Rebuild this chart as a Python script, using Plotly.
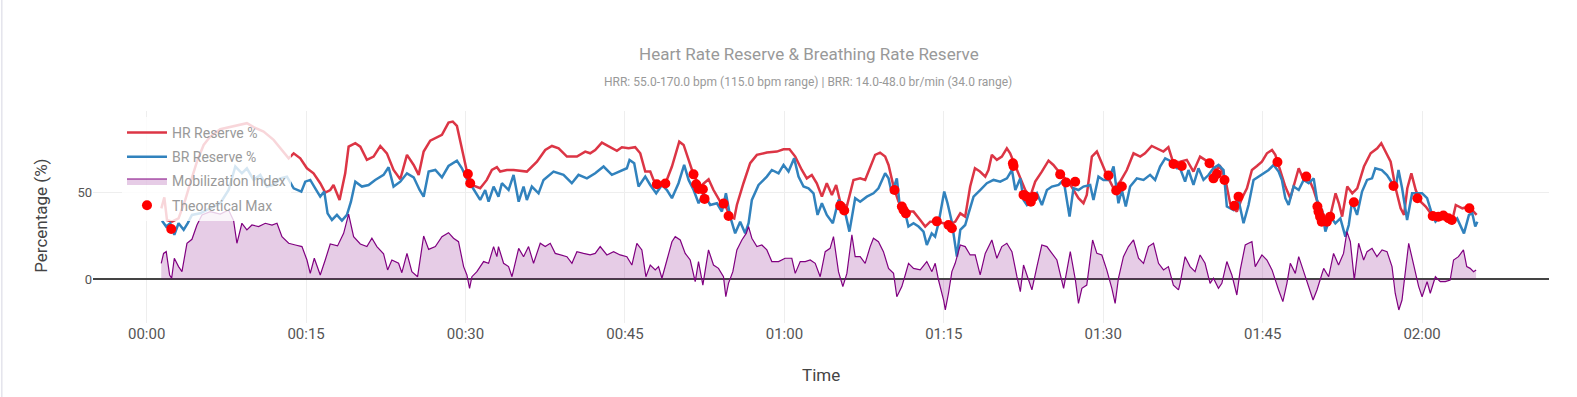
import datetime as dt
import plotly.graph_objects as go

# ---------------- data (time in minutes from start) ----------------
hr_min = [1.38, 1.66, 1.91, 2.38, 3.0, 3.63, 4.1, 4.73, 5.36, 5.98, 6.92, 7.87, 8.8, 9.43, 10.06,
          11.0, 11.94, 12.73, 13.36, 13.83, 14.45, 15.08, 15.7, 16.33, 16.8, 17.27, 17.58, 18.15,
          18.68, 19.0, 19.63, 20.1, 20.72, 21.35, 21.98, 22.6, 23.23, 23.86, 24.49, 25.12, 25.59,
          26.06, 26.68, 27.78, 28.4, 28.8, 29.19, 29.82, 30.13, 30.6,
          31.38, 32.0, 32.48, 32.95, 33.26, 33.89, 34.52, 35.77, 36.72, 37.5, 38.13, 38.76, 39.54,
          40.48, 41.26, 41.73, 42.2, 42.83, 43.46, 44.24, 44.71, 45.34, 45.96, 46.44, 46.91, 47.38,
          47.69, 48.16, 48.79, 49.42, 50.11, 50.52, 50.99, 51.46, 52.08, 52.87, 53.33, 53.96, 54.43,
          54.9, 55.28, 55.53, 56.15, 56.78, 57.41, 58.35, 59.29, 59.92, 60.48, 61.02, 61.64, 62.11,
          62.58, 63.05, 63.53, 63.99, 64.47, 64.87, 65.25, 65.87, 66.5, 66.97,
          67.13, 67.6, 68.07, 68.54, 69.0, 69.48, 69.8, 70.27, 70.74, 71.05, 71.52, 72.15, 72.78,
          73.25, 73.72, 74.35, 74.98, 75.54, 76.08, 76.55, 77.01, 77.48, 77.93, 78.4, 78.9, 79.2,
          79.52, 79.99, 80.46, 80.93, 81.24, 81.56, 82.18, 82.66, 83.13, 83.6, 84.22, 84.85, 85.31,
          85.94, 86.73, 87.2, 87.67, 88.14, 88.45, 88.93, 89.4, 89.87, 90.33, 90.97, 91.59, 92.22,
          92.85, 93.48, 93.93, 94.56, 95.03, 95.66, 96.13, 96.6,
          97.23, 97.86, 98.49, 99.11, 99.58, 100.05, 100.53, 101.0, 101.47, 101.94, 102.57, 103.05,
          103.52, 103.99, 104.46, 104.93, 105.4, 105.88, 106.19, 106.66, 107.13, 107.6, 108.07,
          108.39, 108.86, 109.33, 109.8, 110.24, 110.75, 111.23, 111.64, 111.86, 112.17, 112.48,
          112.96, 113.43, 113.9, 114.53, 115.16, 115.78, 116.16, 116.48, 117.04, 117.51, 117.98,
          118.3, 118.61, 118.99, 119.4, 119.87, 120.34, 120.81, 121.44, 122.38, 122.85, 123.17,
          123.79, 124.42, 124.88, 125.13]
hr_val = [40.8, 47.1, 34.1, 33.1, 35.0, 45.6, 55.2, 67.6, 77.2, 82.0, 86.2, 87.4, 88.7, 89.7, 87.4,
          84.9, 80.1, 74.3, 69.5, 72.4, 69.5, 63.8, 60.9, 55.2, 49.8, 51.3, 54.2, 45.6,
          60.9, 76.2, 78.2, 76.2, 68.6, 70.5, 76.6, 72.4, 62.8, 57.5, 71.5, 65.7, 60.0,
          73.4, 79.7, 83.0, 90.0, 90.6, 88.1, 70.5, 61.9, 54.2,
          52.3, 57.1, 62.8, 64.4, 61.9, 62.8, 62.8, 61.9, 67.6, 74.3, 76.6, 75.3, 70.5,
          70.5, 73.4, 72.4, 74.3, 78.5, 76.2, 73.8, 75.9, 75.3, 75.9, 72.4, 61.9, 61.9,
          57.1, 54.8, 54.8, 64.8, 79.1, 77.2, 68.6, 60.0, 53.3, 57.5, 51.3, 44.6, 42.7,
          36.0, 35.0, 42.7, 55.2, 66.7, 71.5, 72.8, 73.4, 74.7, 74.7, 70.5, 62.8, 58.0,
          59.9, 55.2, 47.5, 55.2, 48.5, 54.2, 44.6, 41.8, 57.1, 58.0,
          58.0, 57.1, 64.8, 71.5, 72.8, 70.5, 65.7, 53.3, 44.6, 41.8, 38.9, 38.9, 34.1,
          30.3, 33.1, 33.1, 32.2, 31.2, 33.1, 37.9, 36.0, 53.3, 63.8, 61.9, 59.0, 62.8,
          71.5, 68.6, 70.5, 75.3, 72.4, 67.6, 58.0, 51.3, 47.5, 56.1, 61.9, 68.2, 65.7,
          60.9, 56.1, 51.3, 46.6, 43.7, 48.5, 70.5, 73.4, 66.7, 60.0, 52.3, 56.1, 62.8,
          72.4, 70.5, 72.4, 76.6, 75.3, 73.4, 75.9, 66.7,
          67.6, 68.6, 61.9, 70.5, 68.6, 66.7, 62.8, 64.8, 58.0, 43.7, 38.9, 46.6,
          52.3, 62.8, 65.1, 67.6, 72.4, 74.3, 71.5, 62.8, 53.3, 46.6, 56.1,
          63.8, 57.1, 58.0, 51.3, 42.7, 37.0, 33.1, 43.7, 49.4, 43.7, 36.0,
          53.3, 49.4, 52.3, 64.8, 72.4, 75.3, 78.2, 74.3, 67.6, 52.3, 40.8,
          37.0, 52.3, 60.9, 51.3, 44.6, 41.8, 37.9, 36.0, 35.0, 34.1, 42.7,
          40.8, 41.8, 38.9, 37.0]

br_min = [1.44, 1.84, 2.22, 2.6, 3.0, 3.48, 3.85, 4.26, 5.04, 5.98, 6.92, 7.71, 8.34, 8.96, 9.43,
          10.06, 10.69, 11.32, 11.94, 12.57, 13.2, 13.83, 14.55, 14.92, 15.39, 15.86, 16.33, 16.71,
          17.02, 17.43, 17.9, 18.37, 18.84, 19.22, 19.63, 20.25, 20.88, 21.5, 22.29, 22.76, 23.23,
          23.86, 24.49, 25.12, 25.68, 26.06, 26.53, 27.16, 27.78, 28.4, 29.19, 29.66, 30.13, 30.6,
          31.38, 31.85, 32.17, 32.64, 33.1, 33.42, 34.05, 34.52, 35.0, 35.46, 35.77, 36.24, 36.87,
          37.34, 38.28, 39.22, 40.0, 40.63, 41.42, 42.2, 42.99, 43.77, 44.56, 45.18, 45.43, 45.87,
          46.28, 46.91, 47.38, 47.94, 48.48, 48.95, 49.42, 50.04, 50.57, 50.99, 51.46, 51.93, 52.4,
          53.02, 53.65, 54.12, 54.5, 54.9, 55.37, 55.84, 56.31, 56.63, 56.94, 57.57, 58.35, 58.82,
          59.45, 59.92, 60.39, 60.92, 61.33, 61.8, 62.27, 62.74, 63.12, 63.53, 63.99, 64.56, 65.09,
          65.56, 66.12, 66.66,
          67.13, 67.76, 68.38, 68.85, 69.48, 69.8, 70.11, 70.58, 70.83, 71.2, 71.67, 72.15, 72.62,
          73.09, 73.4, 73.86, 74.18, 74.5, 75.04, 75.35, 75.75, 76.23, 76.55, 77.01, 77.33, 77.8,
          78.42, 79.05, 79.68, 80.31, 80.94, 81.41, 81.73, 82.2, 82.5, 82.82, 83.29, 83.76, 84.23,
          84.7, 85.17, 85.8, 86.27, 86.83, 87.2, 87.67, 88.14, 88.77, 89.08, 89.55, 90.02, 90.49,
          90.97, 91.43, 91.75, 92.12, 92.53, 93.16, 93.79, 94.41, 94.88, 95.35, 95.83, 96.45, 96.93,
          97.23, 97.7, 98.02, 98.49, 98.96, 99.43, 99.9, 100.37, 100.85, 101.32, 101.63, 102.26,
          102.73, 103.2, 103.67, 104.14, 104.61, 105.09, 105.56, 106.03, 106.5, 106.81, 107.13,
          107.44, 107.91, 108.39, 108.86, 109.33, 109.8, 110.11, 110.58, 110.9, 111.37, 111.84,
          112.31, 112.78, 113.1, 113.41, 113.88, 114.35, 114.82, 115.29, 115.6, 116.21, 116.69,
          117.0, 117.51, 117.78, 118.12, 118.59, 119.06, 119.53, 120.0, 120.47, 120.95, 121.26,
          121.72, 122.35, 122.85, 123.3, 123.94, 124.41, 124.72, 125.0, 125.2]
br_val = [33.7, 30.3, 32.2, 25.5, 32.2, 28.4, 32.2, 37.0, 37.9, 40.8, 43.7, 51.3, 64.8, 60.9, 63.8,
          57.1, 60.0, 53.3, 54.2, 58.0, 59.0, 52.3, 50.4, 56.1, 57.1, 52.3, 47.5, 50.4,
          37.9, 34.1, 37.0, 33.7, 37.0, 44.6, 56.1, 53.3, 54.2, 57.1, 60.0, 64.4, 53.3,
          56.1, 60.9, 58.6, 51.3, 47.5, 61.9, 62.8, 58.6, 65.1, 68.2, 63.8, 57.5, 53.3,
          45.6, 51.3, 44.6, 53.3, 47.5, 55.2, 51.3, 60.0, 44.6, 53.3, 45.6, 53.3, 49.4,
          57.1, 61.9, 60.0, 55.2, 60.0, 58.0, 60.9, 64.8, 60.0, 61.9, 63.8, 68.6, 66.7,
          53.3, 59.0, 54.2, 49.4, 54.2, 51.3, 46.6, 55.2, 65.7, 57.1, 51.3, 43.7, 49.4,
          42.7, 43.7, 38.9, 49.4, 36.0, 26.4, 33.1, 26.4, 32.2, 45.6, 54.2, 59.0, 62.8,
          60.9, 65.7, 61.9, 69.5, 59.0, 53.3, 52.3, 49.4, 37.0, 43.7, 37.0, 32.2, 45.6,
          42.7, 27.4, 46.6,
          44.6, 47.5, 49.4, 52.3, 60.9, 58.0, 49.4, 58.0, 43.7, 42.7, 30.3, 32.2, 30.3,
          27.4, 19.7, 26.4, 24.5, 32.2, 50.4, 43.7, 33.1, 13.0, 28.4, 31.2, 37.9, 47.5,
          51.3, 55.2, 57.1, 56.1, 58.0, 62.8, 51.3, 58.0, 45.6, 42.7, 45.6, 49.4, 42.7,
          51.3, 53.3, 54.2, 57.1, 36.0, 52.3, 51.3, 53.3, 54.2, 45.6, 59.0, 57.1, 57.1,
          64.8, 43.7, 51.3, 41.8, 53.3, 58.0, 57.1, 60.0, 57.1, 64.8, 69.5, 67.6, 63.8,
          63.8, 56.1, 62.8, 54.2, 63.8, 57.1, 59.9, 63.8, 65.7, 62.8, 41.8, 39.8,
          45.6, 32.2, 42.7, 57.1, 59.0, 60.9, 62.8, 65.7, 61.9, 57.1, 46.6,
          42.7, 53.3, 51.3, 57.1, 55.2, 58.0, 45.6, 39.8, 27.4, 36.0, 32.2,
          35.0, 24.5, 31.2, 44.6, 37.0, 50.4, 57.1, 58.0, 63.8, 62.8, 59.9,
          57.1, 52.3, 62.8, 52.3, 34.1, 49.4, 49.4, 49.4, 46.6, 37.0, 33.1,
          36.0, 35.0, 32.2, 35.0, 26.4, 37.0, 37.9, 30.3, 33.1]

mob_min = [1.37, 1.59, 1.84, 2.16, 2.35, 2.6, 3.0, 3.32, 3.79, 4.26, 4.73, 5.2, 5.98, 6.92, 7.71,
           8.18, 8.49, 8.96, 9.43, 9.9, 10.53, 11.16, 11.79, 12.26, 12.73, 13.36, 13.99, 14.61,
           15.08, 15.39, 15.77, 16.33, 16.8, 17.27, 17.96, 18.53, 19.0, 19.47, 20.1, 20.72, 21.19,
           21.66, 22.29, 22.67, 23.07, 23.7, 24.01, 24.49, 24.95, 25.49, 26.06, 26.53, 27.16, 27.78,
           28.4, 28.87, 29.34, 29.82, 30.13, 30.38, 30.6, 31.07,
           31.38, 31.7, 32.17, 32.64, 32.95, 33.1, 33.58, 34.05, 34.37, 35.0, 35.46, 35.93, 36.4,
           37.03, 37.5, 37.97, 38.44, 38.91, 39.54, 40.01, 40.48, 41.1, 41.73, 42.2, 42.67, 43.3,
           43.93, 44.55, 45.18, 45.65, 46.12, 46.59, 46.97, 47.38, 47.85, 48.16, 48.48, 48.95, 49.42,
           49.73, 50.2, 50.67, 51.14, 51.61, 51.92, 52.33, 52.86, 53.33, 53.8, 54.27, 54.49, 54.74,
           55.15, 55.53, 56.0, 56.41, 56.63, 56.94, 57.41, 57.88, 58.35, 58.82, 59.45, 60.07, 60.7,
           61.02, 61.49, 61.96, 62.43, 62.9, 63.37, 63.84, 64.3, 64.62, 65.09, 65.5, 65.88, 66.35,
           66.66,
           67.13, 67.6, 68.07, 68.38, 68.85, 69.32, 69.8, 70.27, 70.58, 71.05, 71.37, 71.68, 72.15,
           72.78, 73.4, 73.88, 74.19, 74.5, 74.98, 75.14, 75.44, 75.76, 76.07, 76.55, 77.01, 77.48,
           77.95, 78.42, 78.9, 79.52, 79.99, 80.46, 80.93, 81.41, 81.88, 82.2, 82.5, 82.97, 83.29,
           83.76, 84.22, 84.7, 85.17, 85.64, 86.27, 86.9, 87.38, 87.67, 87.99, 88.45, 89.0, 89.4,
           89.87, 90.33, 90.81, 91.12, 91.43, 91.9, 92.37, 92.85, 93.32, 93.79, 94.26, 94.73, 95.2,
           95.67, 96.13, 96.6, 97.08,
           97.23, 97.7, 98.17, 98.64, 99.11, 99.58, 100.05, 100.37, 100.84, 101.16, 101.63, 102.1,
           102.57, 102.89, 103.36, 103.67, 103.99, 104.3, 104.93, 105.4, 105.88, 106.5, 106.9,
           107.28, 107.6, 108.07, 108.39, 108.86, 109.33, 109.74, 110.11, 110.74, 111.21, 111.67,
           112.14, 112.61, 112.93, 113.25, 113.62, 114.03, 114.5, 114.82, 115.29, 115.75, 116.23,
           116.7, 117.17, 117.47, 117.81, 118.11, 118.74, 119.22, 119.68, 120.0, 120.47, 120.77,
           121.25, 121.71, 122.19, 122.64, 122.96, 123.42, 123.89, 124.2, 124.52, 124.84, 125.08]
mob_val = [9.2, 14.9, 15.9, 2.5, 0.6, 12.1, 7.3, 4.4, 20.7, 23.0, 31.2, 37.0, 38.9, 37.5, 39.8,
           33.7, 20.7, 32.2, 28.4, 31.2, 30.3, 32.2, 31.2, 32.2, 24.5, 20.7, 19.7, 18.8,
           11.1, 3.4, 12.1, 2.5, 11.1, 20.3, 19.2, 26.4, 37.5, 24.5, 20.3, 18.8, 23.6,
           18.8, 14.6, 5.4, 11.1, 9.2, 3.8, 14.9, 4.4, 1.5, 24.9, 17.2, 18.8, 24.5,
           26.8, 23.6, 21.6, 7.3, 2.5, -5.2, 1.5, 4.4,
           7.3, 10.2, 9.2, 18.8, 13.0, 18.8, 9.2, 7.3, 1.5, 17.8, 13.0, 18.8, 9.2,
           20.7, 18.8, 20.7, 14.9, 14.0, 13.0, 9.2, 15.9, 14.9, 14.0, 14.9, 18.8, 14.0,
           15.9, 14.0, 13.0, 8.2, 20.7, 16.9, 1.5, 8.2, 5.4, 7.3, 0.6, 11.1, 21.6,
           24.5, 22.6, 14.9, 11.1, -1.3, 10.2, -3.3, 16.9, 8.2, 6.3, 1.5, -10.0, -2.3,
           4.4, 16.9, 22.6, 26.4, 30.3, 23.6, 18.8, 19.7, 16.9, 10.2, 10.2, 12.1, 12.1,
           3.4, 10.2, 10.2, 11.1, 9.2, 1.5, 15.9, 17.8, 24.5, 4.4, -4.2, 3.4, 25.5,
           13.0,
           13.0, 9.2, 18.8, 23.6, 21.6, 15.9, 6.3, 3.4, -10.0, -4.2, 2.5, 9.2, 6.3,
           5.4, 10.2, 4.4, 9.2, -0.4, -11.9, -17.6, -8.0, 4.4, 9.2, 19.7, 18.8, 14.0,
           14.0, 2.5, 14.9, 22.6, 12.1, 18.8, 20.7, 15.9, 1.5, -7.1, 8.2, -0.4, -6.1,
           7.3, 19.7, 18.8, 14.9, 11.1, -5.2, 15.9, -0.4, -13.8, -5.2, -3.3, 22.6, 14.9,
           14.0, 5.4, -5.2, -13.8, 0.6, 13.0, 18.8, 22.6, 12.1, 9.2, 18.8, 20.7, 9.2,
           5.4, 7.3, -3.3, -6.1,
           -2.3, 13.0, 7.3, 4.4, 14.0, 9.2, -2.3, 0.6, -5.2, -2.3, 10.2, 2.5,
           -9.0, 5.4, 19.7, 20.7, 21.6, 7.3, 14.0, 11.1, 5.4, -6.1, -12.8,
           -2.3, 9.2, 3.4, 13.0, 4.4, -4.2, -11.9, -6.1, 6.3, 1.5, 14.9,
           8.2, 14.9, 27.4, 21.6, -0.4, 20.7, 11.1, 15.9, 17.8, 13.0, 16.9,
           15.9, 7.3, -8.0, -17.6, -11.9, 20.7, 8.2, -4.2, -10.0, -1.3, -8.0,
           1.5, -1.3, -1.3, -0.4, 11.1, 13.0, 16.9, 7.3, 6.3, 4.4, 5.4]

max_min = [2.31, 30.22, 30.44, 48.0, 48.8, 51.45, 51.7, 51.92, 52.33, 52.49, 54.28, 54.75, 65.25,
           65.63, 70.36, 71.05, 71.21, 71.43, 74.34, 75.44, 75.76, 81.5, 81.56, 82.5, 82.82, 83.19,
           83.44, 85.95, 86.51, 87.36, 90.49, 91.22, 91.75, 96.61, 97.39, 100.0, 100.37, 100.69,
           101.41, 102.33, 102.73, 106.39, 109.1, 110.15, 110.25, 110.4, 110.56, 111.04, 111.35,
           113.58, 117.31, 119.56, 121.0, 121.53, 122.0, 122.48, 122.79, 124.45]
max_val = [28.9, 60.5, 55.2, 54.6, 55.0, 60.3, 54.6, 51.9, 51.7, 46.2, 43.5, 36.4, 42.3,
           39.5, 51.3, 41.8, 39.8, 37.9, 33.3, 31.2, 29.3, 66.7, 65.1, 48.5, 47.5, 44.6,
           47.5, 60.3, 55.6, 56.1, 59.6, 51.0, 53.3, 66.3, 65.1, 66.7, 58.0, 60.5,
           57.1, 42.3, 47.5, 67.4, 59.0, 41.8, 38.9, 36.0, 33.1, 33.1, 36.0,
           44.3, 53.6, 46.6, 36.4, 36.0, 36.6, 35.1, 34.1, 40.8]

x_tick_step_min = 15
title_text = "Heart Rate Reserve & Breathing Rate Reserve"
subtitle_text = "HRR: 55.0-170.0 bpm (115.0 bpm range) | BRR: 14.0-48.0 br/min (34.0 range)"
x_title = "Time"
y_title = "Percentage (%)"

# ---------------- build ----------------
BASE = dt.datetime(2024, 1, 1, 0, 0, 0)


def to_time(mins):
    return [BASE + dt.timedelta(minutes=m) for m in mins]


FONT = "Roboto"
fig = go.Figure()
fig.add_trace(go.Scatter(x=to_time(hr_min), y=hr_val, mode="lines", name="HR Reserve %",
                         legendgroup="a", line=dict(color="#dc3545", width=2.5)))
fig.add_trace(go.Scatter(x=to_time(br_min), y=br_val, mode="lines", name="BR Reserve %",
                         legendgroup="b", line=dict(color="#3182bd", width=2.5)))
fig.add_trace(go.Scatter(x=to_time(mob_min), y=mob_val, mode="lines", name="Mobilization Index",
                         legendgroup="c", line=dict(color="#800080", width=1.2),
                         fill="tozeroy", fillcolor="rgba(128,0,128,0.2)"))
fig.add_trace(go.Scatter(x=to_time(max_min), y=max_val, mode="markers", name="Theoretical Max",
                         legendgroup="d", marker=dict(color="#ff0000", size=10)))

W, H = 1577, 397
L, R, T, B = 92.7, 28, 111, 74
pw, ph = W - L - R, H - T - B


def px_x(p):
    return (p - L) / pw


def px_y(p):
    return (H - B - p) / ph


fig.update_layout(
    width=W, height=H,
    margin=dict(l=L, r=R, t=T, b=B, pad=0),
    paper_bgcolor="white", plot_bgcolor="white",
    font=dict(family=FONT, color="#444"),
    showlegend=True,
    legend=dict(x=px_x(121.7), y=px_y(117), xanchor="left", yanchor="top",
                bgcolor="rgba(255,255,255,0.8)", borderwidth=0,
                font=dict(size=14, color="#999", family=FONT),
                itemwidth=40, tracegroupgap=3, traceorder="grouped"),
    annotations=[
        dict(text=title_text, xref="paper", yref="paper", x=px_x(809), y=px_y(54),
             xanchor="center", yanchor="middle", showarrow=False,
             font=dict(size=17, color="#999", family=FONT)),
        dict(text=subtitle_text, xref="paper", yref="paper", x=px_x(808), y=px_y(81.7),
             xanchor="center", yanchor="middle", showarrow=False,
             font=dict(size=12, color="#999", family=FONT)),
        dict(text=x_title, xref="paper", yref="paper", x=0.5, y=px_y(375),
             xanchor="center", yanchor="middle", showarrow=False,
             font=dict(size=17, color="#444", family=FONT)),
        dict(text=y_title, xref="paper", yref="paper", x=px_x(40.5), y=px_y(216),
             xanchor="center", yanchor="middle", showarrow=False, textangle=-90,
             font=dict(size=17, color="#444", family=FONT)),
    ],
    shapes=[dict(type="line", xref="paper", yref="paper", x0=px_x(1.5), x1=px_x(1.5),
                 y0=px_y(H), y1=px_y(0), line=dict(color="#e4e4ec", width=1.5))],
    xaxis=dict(
        type="date",
        range=[BASE + dt.timedelta(minutes=-5.05), BASE + dt.timedelta(minutes=131.94)],
        tickformat="%H:%M", dtick=x_tick_step_min * 60 * 1000, tick0=BASE,
        showgrid=True, gridcolor="#eeeeee", gridwidth=1,
        showline=False, zeroline=False, ticks="",
        tickfont=dict(size=15, color="#555", family=FONT),
    ),
    yaxis=dict(
        range=[-25.1, 96.7], dtick=50, tick0=0,
        showgrid=True, gridcolor="#eeeeee", gridwidth=1,
        zeroline=True, zerolinecolor="#444", zerolinewidth=1.5,
        showline=False, ticks="",
        tickfont=dict(size=13, color="#555", family=FONT),
    ),
)

fig.write_html("out.html", config={"displayModeBar": False},
               post_script="document.body.style.margin='0px';")
